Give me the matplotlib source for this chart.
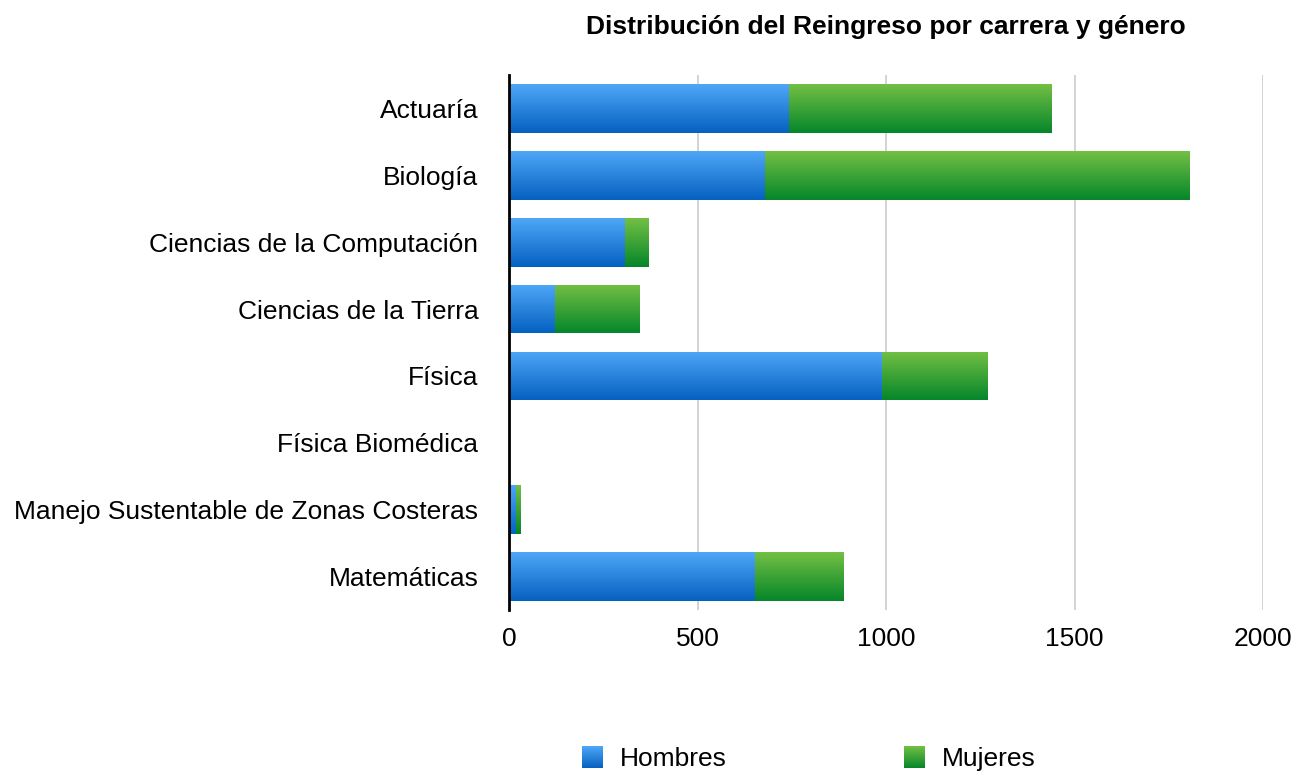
import numpy as np
import matplotlib
matplotlib.use("Agg")
import matplotlib.pyplot as plt
from matplotlib.colors import LinearSegmentedColormap

plt.rcParams["font.family"] = ["Liberation Sans", "DejaVu Sans"]

carreras = [
    "Actuaría",
    "Biología",
    "Ciencias de la Computación",
    "Ciencias de la Tierra",
    "Física",
    "Física Biomédica",
    "Manejo Sustentable de Zonas Costeras",
    "Matemáticas",
]
hombres = [743, 680, 308, 122, 989, 0, 19, 652]
mujeres = [695, 1126, 63, 225, 279, 0, 13, 234]

blue_cmap = LinearSegmentedColormap.from_list("b", ["#0561c0", "#4fa7f8"])
green_cmap = LinearSegmentedColormap.from_list("g", ["#05862a", "#73c044"])
grad = np.linspace(0, 1, 256).reshape(-1, 1)

fig = plt.figure(figsize=(13.01, 7.76), dpi=100)
ax = fig.add_axes([509 / 1301, 1 - 610 / 776, (1263 - 509) / 1301, (610 - 75) / 776])

y = np.arange(len(carreras))
h = 0.73
b1 = ax.barh(y, hombres, height=h, color="none")
b2 = ax.barh(y, mujeres, left=hombres, height=h, color="none")


def fill_gradient(bars, cmap):
    for p in bars:
        x0, y0 = p.get_x(), p.get_y()
        w, hh = p.get_width(), p.get_height()
        if w <= 0:
            continue
        # light at the top, dark at the bottom (y axis is inverted)
        im = ax.imshow(grad, cmap=cmap, aspect="auto", origin="lower",
                       extent=[x0, x0 + w, y0 + hh, y0], zorder=2,
                       interpolation="bicubic")
        im.set_clip_path(p)


fill_gradient(b1, blue_cmap)
fill_gradient(b2, green_cmap)

ax.set_xlim(0, 2000)
ax.set_ylim(len(carreras) - 0.5, -0.5)
ax.set_yticks(y)
ax.set_yticklabels(carreras)
ax.set_xticks([0, 500, 1000, 1500, 2000])
ax.tick_params(axis="both", length=0, labelsize=19)
ax.tick_params(axis="y", pad=22)
ax.tick_params(axis="x", pad=12)
ax.grid(axis="x", color="#cccccc", linewidth=1.2, zorder=0)
ax.set_axisbelow(True)
for s in ["top", "right", "bottom"]:
    ax.spines[s].set_visible(False)
ax.spines["left"].set_linewidth(2)
ax.spines["left"].set_zorder(5)

fig.text(886 / 1301, 1 - 27 / 776, "Distribución del Reingreso por carrera y género",
         ha="center", va="center", fontsize=19, fontweight="bold")

# legend with gradient squares
for sx, label, cmap in [(582, "Hombres", blue_cmap), (904, "Mujeres", green_cmap)]:
    lax = fig.add_axes([sx / 1301, 1 - 768 / 776, 21 / 1301, 22 / 776])
    lax.imshow(grad, cmap=cmap, aspect="auto", origin="lower")
    lax.axis("off")
    fig.text((sx + 38) / 1301, 1 - 759 / 776, label, ha="left", va="center", fontsize=19)

fig.savefig("out.png", dpi=100)
